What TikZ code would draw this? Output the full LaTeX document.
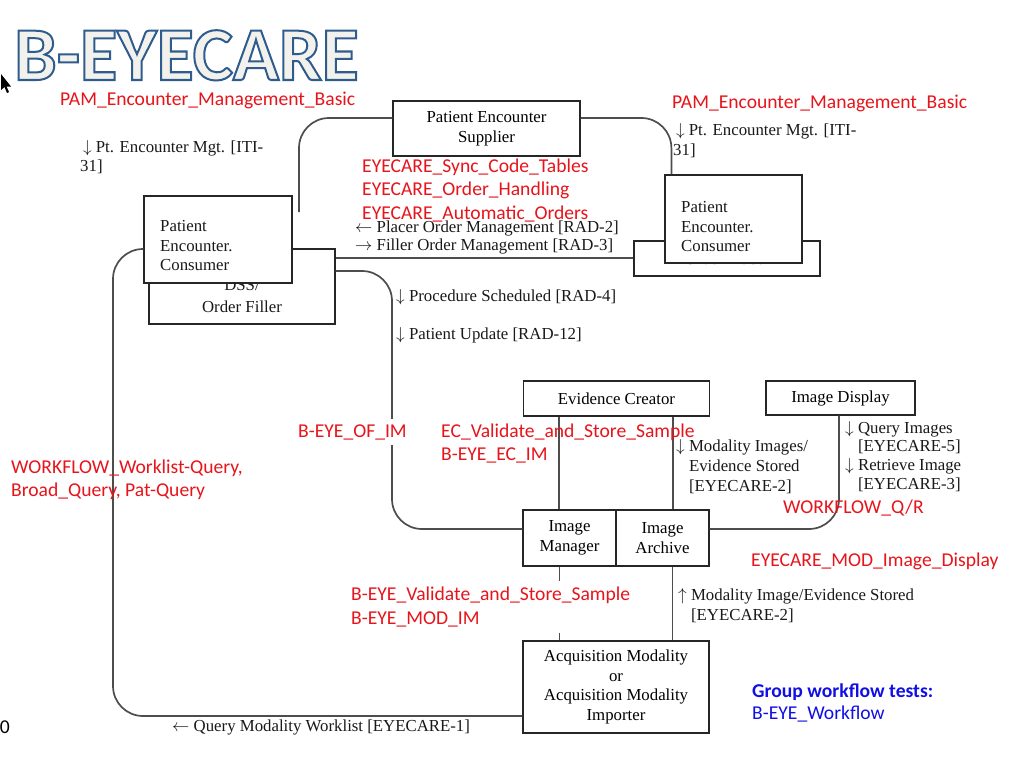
\documentclass[tikz,border=0pt]{standalone}
\usepackage{fontspec}
\setmainfont{Liberation Serif}
\newfontfamily\calibri{Carlito}
\usepackage{tikz}
\usetikzlibrary{positioning, calc}
\definecolor{linkgray}{HTML}{4D4D4D}
\definecolor{labelred}{HTML}{E8141B}
\definecolor{groupblue}{HTML}{1010E6}
\definecolor{titleblue}{HTML}{2F5C8F}
\definecolor{titlefill}{HTML}{F2F1EB}
\newcommand{\boxfont}{\fontsize{16.8}{19.5}\selectfont}
\newcommand{\redfont}{\calibri\fontsize{19.6}{23.5}\selectfont}
\newcommand{\titlefont}{\calibri\bfseries\fontsize{76}{80}\selectfont}
% fill + stroke text for the outlined title
\newcommand{\outlined}[1]{\special{pdf:literal direct 2 Tr 2 w 0.184 0.361 0.561 RG}#1\special{pdf:literal direct 0 Tr}}

\begin{document}
\begin{tikzpicture}[
    x=1pt, y=-1pt,
    box/.style={rectangle, draw=black!85, line width=1.2pt, fill=white, align=center, font=\boxfont, inner sep=0pt},
    txt/.style={anchor=west, align=left, inner sep=0pt, font=\boxfont, text=black!90},
    redlabel/.style={anchor=west, align=left, inner sep=0pt, font=\redfont, text=labelred},
    link/.style={draw=linkgray, line width=1.7pt, rounded corners=30pt}
]
\fill[white] (0,0) rectangle (1024,768);
\useasboundingbox (0,0) rectangle (1024,768);

% Title
\node[anchor=base west, inner sep=0pt, font=\titlefont, text=titlefill] (title) at (14,80) {\outlined{B-EYECARE}};
\fill[black] (1,74) -- (1,90) -- (4.5,87) -- (7,93) -- (9,92) -- (6.5,86.5) -- (11,86.5) -- cycle;

% Encounter side
\node[box, minimum width=187pt, minimum height=55pt] (sup) at (486.5,128.5) {Patient Encounter\\Supplier};

\node[box, minimum width=186pt, minimum height=75pt] (dss) at (242,286.5) {};
\node[txt, anchor=center, align=center, font=\fontsize{16.8}{22}\selectfont] (dsstext) at (242,296) {DSS/\\Order Filler};
\node[box, minimum width=148pt, minimum height=87pt] (lpec) at (218,239.5) {};
\node[txt] (lpectext) at (160,246) {Patient\\Encounter.\\Consumer};

\node[box, minimum width=186pt, minimum height=35pt] (placer) at (727,258.5) {};
\node[txt, anchor=center] (placertext) at (727,259) {Order Placer};
\node[box, minimum width=137pt, minimum height=88pt] (rpec) at (733.5,219) {};
\node[txt] (rpectext) at (681,227) {Patient\\Encounter.\\Consumer};

% Image side
\node[box, minimum width=186pt, minimum height=35pt] (ec) at (616.5,398.5) {Evidence Creator};
\node[box, minimum width=149pt, minimum height=34pt] (disp) at (840.5,398) {Image Display};
\node[box, minimum width=93pt, minimum height=56pt] (im) at (569.5,538) {Image\\Manager};
\node[box, minimum width=93pt, minimum height=56pt] (ia) at (662.5,538) {Image\\Archive};
\node[box, minimum width=186pt, minimum height=92pt] (acq) at (616,687) {Acquisition Modality\\or\\Acquisition Modality\\Importer};

% Connections
\coordinate (supend) at (299,212);
\coordinate (loopturn) at (113,716);
\coordinate (ofturn) at (392,400);
\coordinate (ecl) at ([xshift=36pt]ec.south west);
\coordinate (ecr) at ([xshift=-37pt]ec.south east);
\coordinate (iml) at ([xshift=-10pt]im.south);
\coordinate (iar) at ([xshift=10pt]ia.south);

\draw[link] ([yshift=10.5pt]sup.west) -| (supend);
\draw[link] ([yshift=10.5pt]sup.east) -| ([xshift=7pt]rpec.north west);
\draw[link] ([yshift=-9.5pt]lpec.west) -| (loopturn) -- ([yshift=-29pt]acq.west);
\draw[link] ([yshift=28.5pt]dss.east) -- ([yshift=28.5pt]dss.east -| placer.west);
\draw[link] ([yshift=15.5pt]dss.east) -| (ofturn) |- ([yshift=9pt]im.west);
\draw[link] (ecl) -- (ecl |- im.north);
\draw[link] (ecr) -- (ecr |- ia.north);
\draw[link] (iml) -- (iml |- acq.north);
\draw[link] (iar) -- (iar |- acq.north);
\draw[link] ([xshift=-1.5pt]disp.south) |- ([yshift=9pt]ia.east);

% Labels
\node[redlabel] (pamleft) at (60,100) {PAM\_Encounter\_Management\_Basic};
\node[redlabel] (pamright) at (672,103) {PAM\_Encounter\_Management\_Basic};
\node[txt] (itileft) at (80,157) {\,$\downarrow$ Pt. Encounter Mgt. [ITI-\\31]};
\node[txt] (itiright) at (673,140.5) {\,$\downarrow$ Pt. Encounter Mgt. [ITI-\\31]};
\node[redlabel] (ordertests) at (362,190.5) {EYECARE\_Sync\_Code\_Tables\\EYECARE\_Order\_Handling\\EYECARE\_Automatic\_Orders};
\node[txt, font=\fontsize{16.8}{18}\selectfont] (rad23) at (355,237) {$\leftarrow$ Placer Order Management [RAD-2]\\$\rightarrow$ Filler Order Management [RAD-3]};
\node[txt] (rad4) at (396,297) {$\downarrow$ Procedure Scheduled [RAD-4]};
\node[txt] (rad12) at (396,335) {$\downarrow$ Patient Update [RAD-12]};
\node[redlabel, fill=white, inner sep=5pt] (ofim) at (293,432) {B-EYE\_OF\_IM};
\node[redlabel] (ecim) at (441,443.5) {EC\_Validate\_and\_Store\_Sample\\B-EYE\_EC\_IM};
\node[redlabel] (worklist) at (11,480) {WORKFLOW\_Worklist-Query,\\Broad\_Query, Pat-Query};
\node[txt, font=\fontsize{16.8}{20}\selectfont] (ec2) at (676,467) {$\downarrow$ Modality Images/\\\phantom{$\downarrow$ }Evidence Stored\\\phantom{$\downarrow$ }[EYECARE-2]};
\node[txt, font=\fontsize{16.8}{18.7}\selectfont] (qr) at (845,457) {$\downarrow$ Query Images\\\phantom{$\downarrow$ }[EYECARE-5]\\$\downarrow$ Retrieve Image\\\phantom{$\downarrow$ }[EYECARE-3]};
\node[redlabel] (qrtest) at (783,508) {WORKFLOW\_Q/R};
\node[redlabel] (displaytest) at (751,561) {EYECARE\_MOD\_Image\_Display};
\node[redlabel, fill=white, inner sep=6pt] (modim) at (345,607) {B-EYE\_Validate\_and\_Store\_Sample\\B-EYE\_MOD\_IM};
\node[txt, font=\fontsize{16.8}{20}\selectfont] (mod2) at (678,606) {$\uparrow$ Modality Image/Evidence Stored\\\phantom{$\uparrow$ }[EYECARE-2]};
\node[txt, text=groupblue, font=\calibri\fontsize{19.6}{22}\selectfont] (group) at (752,703) {\textbf{Group workflow tests:}\\B-EYE\_Workflow};
\node[txt] (mwl) at (172,727) {$\leftarrow$ Query Modality Worklist [EYECARE-1]};
\node[redlabel, text=black, anchor=east] (pageno) at (10,727) {0};

\end{tikzpicture}
\end{document}
